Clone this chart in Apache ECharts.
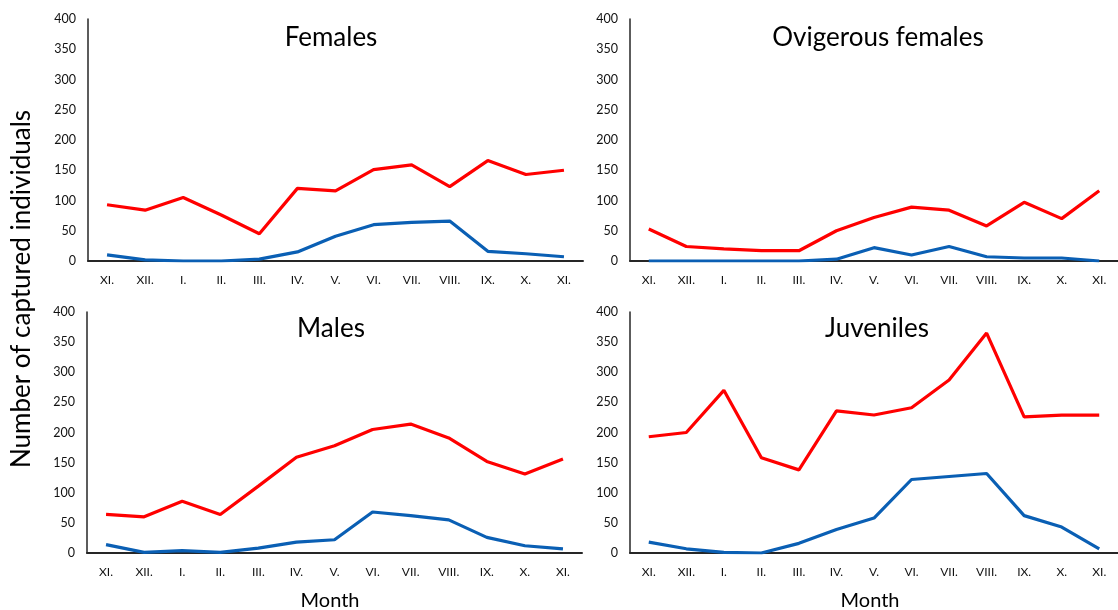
<!DOCTYPE html>
<html><head><meta charset="utf-8">
<script src="https://cdn.jsdelivr.net/npm/echarts@6/dist/echarts.min.js"></script>
<style>html,body{margin:0;padding:0;background:#fff}#c{width:1118px;height:610px}</style>
</head><body><div id="c"></div>
<script>
const months = ['XI.','XII.','I.','II.','III.','IV.','V.','VI.','VII.','VIII.','IX.','X.','XI.'];
const panelTitles = ['Females','Ovigerous females','Males','Juveniles'];
const yTicks = [0,50,100,150,200,250,300,350,400];

const femalesRed  = [93,84,105,76,45,120,116,151,159,123,166,143,150];
const femalesBlue = [10,2,0,0,3,15,41,60,64,66,16,12,7];
const ovigRed     = [53,24,20,17,17,50,72,89,84,58,97,70,116];
const ovigBlue    = [0,0,0,0,0,3,22,10,24,7,5,5,0];
const malesRed    = [64,60,86,64,111,159,178,205,214,191,152,131,156];
const malesBlue   = [14,1,4,1,8,18,22,68,62,55,26,12,7];
const juvRed      = [193,200,270,158,138,236,229,241,287,365,226,229,229];
const juvBlue     = [18,7,1,0,16,39,58,122,127,132,62,43,7];

const redSeries = [femalesRed, ovigRed, malesRed, juvRed];
const blueSeries = [femalesBlue, ovigBlue, malesBlue, juvBlue];

const FONT = 'Lato';
const grids = [
  {left: 88, top: 19, width: 495, height: 242},
  {left: 630, top: 19, width: 498, height: 242},
  {left: 87, top: 312, width: 495, height: 241},
  {left: 630, top: 312, width: 498, height: 241}
];
const titlePos = [[326,20],[873,20],[326,311],[872,311]];

const xAxes = [], yAxes = [], series = [], titles = [];
for (let i = 0; i < 4; i++) {
  xAxes.push({
    type: 'category', gridIndex: i, data: months, boundaryGap: true,
    axisLine: {show: true, lineStyle: {color: '#262626', width: 2}},
    axisTick: {show: false},
    axisLabel: {color: '#111', fontSize: 12, fontFamily: FONT, margin: 13, interval: 0},
    splitLine: {show: false}
  });
  yAxes.push({
    type: 'value', gridIndex: i, min: yTicks[0], max: yTicks[yTicks.length-1],
    interval: yTicks[1]-yTicks[0],
    axisLine: {show: true, lineStyle: {color: '#262626', width: 1.5}},
    axisTick: {show: false},
    axisLabel: {color: '#111', fontSize: 12.5, fontFamily: FONT, margin: 12},
    splitLine: {show: false}
  });
  series.push({
    type: 'line', xAxisIndex: i, yAxisIndex: i, data: blueSeries[i],
    symbol: 'none', lineStyle: {color: '#0a5fb4', width: 3.2}, z: 2
  });
  series.push({
    type: 'line', xAxisIndex: i, yAxisIndex: i, data: redSeries[i],
    symbol: 'none', lineStyle: {color: '#ff0000', width: 3.2}, z: 3
  });
  titles.push({
    text: panelTitles[i], left: titlePos[i][0], top: titlePos[i][1], textAlign: 'center',
    textStyle: {fontFamily: FONT, fontSize: 26, fontWeight: 'normal', color: '#000'}
  });
}

const chart = echarts.init(document.getElementById('c'));
chart.setOption({
  animation: false,
  title: titles,
  grid: grids,
  xAxis: xAxes,
  yAxis: yAxes,
  series: series,
  graphic: [
    {type: 'text', x: 22, y: 289, rotation: Math.PI/2,
     style: {text: 'Number of captured individuals', font: '26px ' + FONT, fill: '#000', textAlign: 'center', textVerticalAlign: 'middle'}},
    {type: 'text', x: 330, y: 601,
     style: {text: 'Month', font: '20px ' + FONT, fill: '#000', textAlign: 'center', textVerticalAlign: 'middle'}},
    {type: 'text', x: 870, y: 601,
     style: {text: 'Month', font: '20px ' + FONT, fill: '#000', textAlign: 'center', textVerticalAlign: 'middle'}}
  ]
});
</script></body></html>
